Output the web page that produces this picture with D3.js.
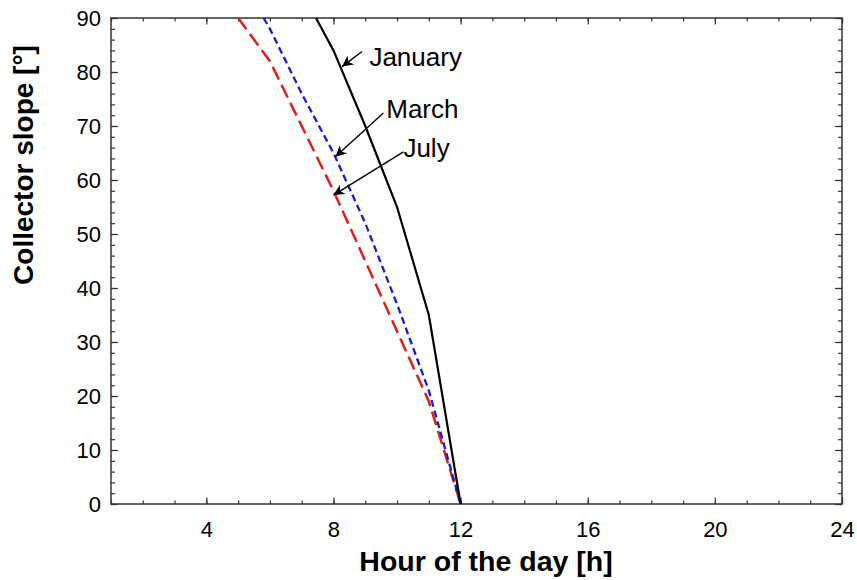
<!DOCTYPE html>
<html>
<head>
<meta charset="utf-8">
<script src="https://cdn.jsdelivr.net/npm/d3@7"></script>
<style>
  body { margin: 0; background: #fff; }
  svg { font-family: "Liberation Sans", Arial, sans-serif; }
</style>
</head>
<body>
<svg id="chart"></svg>
<script>
// Hour of the day vs. collector slope for three months
const hoursJanuary = [7.45, 8, 9, 10, 11, 12];
const slopeJanuary = [90, 84, 70, 55, 35, 0];

const hoursMarch = [5.8, 6, 7, 8, 9, 10, 11, 12];
const slopeMarch = [90, 88, 76, 65, 52, 37, 21, 0];

const hoursJuly = [5, 6, 7, 8, 9, 10, 11, 12];
const slopeJuly = [90, 82, 70, 58, 45, 32, 19, 0];

const xTicks = [4, 8, 12, 16, 20, 24];
const yTicks = [0, 10, 20, 30, 40, 50, 60, 70, 80, 90];

// annotation: label, text anchor (hour, slope), arrow tail, arrow tip
const noteLabels = ["January", "March", "July"];
const noteText = [[9.13, 81.1], [9.66, 71.5], [10.2, 64.3]];
const noteTail = [[8.9, 83.8], [9.57, 72.4], [10.2, 65.2]];
const noteTip = [[8.27, 81], [8.06, 64.3], [8.0, 57.2]];

const width = 857;
const height = 580;
const margin = { top: 18, right: 15, bottom: 76, left: 111 };
const w = width - margin.left - margin.right;
const h = height - margin.top - margin.bottom;

const svg = d3.select("#chart")
              .attr("width", width)
              .attr("height", height);

svg.append("defs").append("marker")
   .attr("id", "arrow")
   .attr("viewBox", "0 0 10 10")
   .attr("refX", 10)
   .attr("refY", 5)
   .attr("markerWidth", 12)
   .attr("markerHeight", 11)
   .attr("markerUnits", "userSpaceOnUse")
   .attr("orient", "auto")
   .append("path")
   .attr("d", "M0,0 L10,5 L0,10 L3,5 Z")
   .attr("fill", "#000");

const g = svg.append("g")
             .attr("transform", `translate(${margin.left}, ${margin.top})`);

const x = d3.scaleLinear().domain([1, 24]).range([0, w]);
const y = d3.scaleLinear().domain([0, 90]).range([h, 0]);

const axisColor = "#333";

function styleAxis(sel) {
  sel.select(".domain").remove();
  sel.selectAll(".tick line").attr("stroke", axisColor).attr("stroke-width", 1.2);
  sel.selectAll("text").attr("fill", "#000").style("font-size", "22px");
}

// minor ticks (every hour, every 2 degrees)
const xMinor = d3.range(1, 25);
const yMinor = d3.range(0, 91, 2);

g.append("g").attr("transform", `translate(0, ${h})`)
 .call(d3.axisBottom(x).tickValues(xMinor).tickSize(-3.5).tickFormat(""))
 .call(styleAxis);
g.append("g")
 .call(d3.axisTop(x).tickValues(xMinor).tickSize(-3.5).tickFormat(""))
 .call(styleAxis);
g.append("g")
 .call(d3.axisLeft(y).tickValues(yMinor).tickSize(-4).tickFormat(""))
 .call(styleAxis);
g.append("g").attr("transform", `translate(${w}, 0)`)
 .call(d3.axisRight(y).tickValues(yMinor).tickSize(-4).tickFormat(""))
 .call(styleAxis);

// major ticks with labels
g.append("g").attr("id", "x-axis")
 .attr("transform", `translate(0, ${h})`)
 .call(d3.axisBottom(x).tickValues(xTicks).tickSize(-6.5).tickPadding(17))
 .call(styleAxis);
g.append("g")
 .call(d3.axisTop(x).tickValues(xTicks).tickSize(-6.5).tickFormat(""))
 .call(styleAxis);
g.append("g").attr("id", "y-axis")
 .call(d3.axisLeft(y).tickValues(yTicks).tickSize(-7).tickPadding(10))
 .call(styleAxis);
g.append("g").attr("transform", `translate(${w}, 0)`)
 .call(d3.axisRight(y).tickValues(yTicks).tickSize(-7).tickFormat(""))
 .call(styleAxis);

// frame
g.append("rect")
 .attr("width", w)
 .attr("height", h)
 .attr("fill", "none")
 .attr("stroke", axisColor)
 .attr("stroke-width", 1.5);

const line = d3.line()
               .x(d => x(d[0]))
               .y(d => y(d[1]));

const series = [
  { hours: hoursJuly, slope: slopeJuly, color: "#e0201b", dash: "14,6", width: 2.5 },
  { hours: hoursMarch, slope: slopeMarch, color: "#1a1ad6", dash: "7,4", width: 2.3 },
  { hours: hoursJanuary, slope: slopeJanuary, color: "#000", dash: null, width: 2.2 }
];

series.forEach(s => {
  g.append("path")
   .datum(s.hours.map((hr, i) => [hr, s.slope[i]]))
   .attr("d", line)
   .attr("fill", "none")
   .attr("stroke", s.color)
   .attr("stroke-width", s.width)
   .attr("stroke-dasharray", s.dash);
});

// annotations
noteLabels.forEach((label, i) => {
  g.append("line")
   .attr("x1", x(noteTail[i][0]))
   .attr("y1", y(noteTail[i][1]))
   .attr("x2", x(noteTip[i][0]))
   .attr("y2", y(noteTip[i][1]))
   .attr("stroke", "#000")
   .attr("stroke-width", 1.4)
   .attr("marker-end", "url(#arrow)");

  g.append("text")
   .attr("x", x(noteText[i][0]))
   .attr("y", y(noteText[i][1]))
   .style("font-size", "26px")
   .text(label);
});

// axis titles
svg.append("text")
   .attr("x", 486)
   .attr("y", 571)
   .attr("text-anchor", "middle")
   .style("font-size", "28.5px")
   .style("font-weight", "bold")
   .text("Hour of the day [h]");

svg.append("text")
   .attr("transform", "translate(33, 165) rotate(-90)")
   .attr("text-anchor", "middle")
   .style("font-size", "28px")
   .style("font-weight", "bold")
   .text("Collector slope [°]");
</script>
</body>
</html>
